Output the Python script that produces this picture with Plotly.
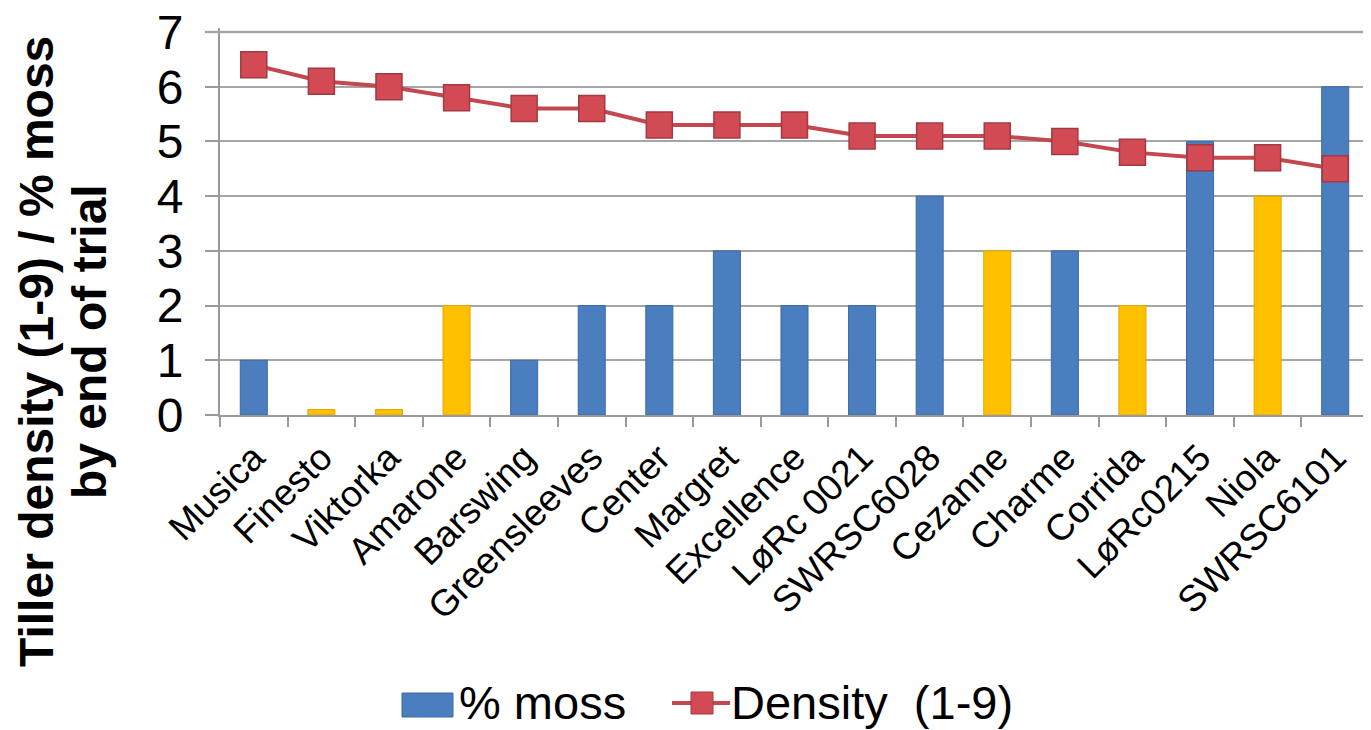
import plotly.graph_objects as go

categories = ["Musica", "Finesto", "Viktorka", "Amarone", "Barswing", "Greensleeves",
              "Center", "Margret", "Excellence", "LøRc 0021", "SWRSC6028", "Cezanne",
              "Charme", "Corrida", "LøRc0215", "Niola", "SWRSC6101"]
moss = [1, 0.1, 0.1, 2, 1, 2, 2, 3, 2, 2, 4, 3, 3, 2, 5, 4, 6]
density = [6.4, 6.1, 6.0, 5.8, 5.6, 5.6, 5.3, 5.3, 5.3, 5.1, 5.1, 5.1, 5.0, 4.8, 4.7, 4.7, 4.5]
yellow_cats = ["Finesto", "Viktorka", "Amarone", "Cezanne", "Corrida", "Niola"]
y_ticks = [0, 1, 2, 3, 4, 5, 6, 7]
y_title_lines = ["Tiller density (1-9) / % moss", "by end of trial"]
legend_names = ["% moss", "Density\u00a0 (1-9)"]

BLUE = "#4a7ebf"
BLUE_EDGE = "#3d6aa3"
YELLOW = "#ffc000"
YELLOW_EDGE = "#e0a800"
RED_LINE = "#c4474f"
RED_FILL = "#d24a54"
RED_EDGE = "#a33a42"
GRID = "#a6a6a6"
AXIS = "#9a9a9a"
FONT = "Arial, Liberation Sans, sans-serif"

# page body has an 8px margin, so the figure is shrunk by that amount
OFF = 8
FIG_W, FIG_H = 1371 - OFF, 730 - OFF
# screen pixels: left axis, right edge, y of value 7, y of value 0
L, R, Y7, B = 220, 1369, 32, 415
UNIT = (B - Y7) / 7.0
Y_TOP = 7 + 4.0 / UNIT          # small headroom above the top gridline
T = B - Y_TOP * UNIT
W, H = R - L, B - T


def px(x):
    return (x - L) / W


def py(y):
    return (B - y) / H


bar_colors = [YELLOW if c in yellow_cats else BLUE for c in categories]
bar_lines = [YELLOW_EDGE if c in yellow_cats else BLUE_EDGE for c in categories]

fig = go.Figure()
fig.add_trace(go.Bar(
    x=categories, y=moss, name=legend_names[0], width=0.4,
    marker=dict(color=bar_colors, line=dict(color=bar_lines, width=1)),
))
fig.add_trace(go.Scatter(
    x=categories, y=density, name=legend_names[1], mode="lines+markers",
    line=dict(color=RED_LINE, width=4),
    marker=dict(symbol="square", size=26, color=RED_FILL,
                line=dict(color=RED_EDGE, width=1.5)),
))

# top gridline (value 7), drawn in paper coordinates so it is never clipped
y7_paper = py(Y7)
fig.add_shape(type="line", xref="paper", yref="paper", x0=px(207), x1=1,
              y0=y7_paper, y1=y7_paper, layer="above",
              line=dict(color=GRID, width=2.5))

# y-axis title, two bold rotated lines
for text, cx, cy in [(y_title_lines[0], 36, 352), (y_title_lines[1], 89, 342)]:
    fig.add_annotation(
        text=f"<b>{text}</b>",
        xref="paper", yref="paper", x=px(cx), y=py(cy),
        xanchor="center", yanchor="middle", textangle=-90, showarrow=False,
        font=dict(family=FONT, size=48, color="#000000"),
    )

# legend (drawn manually to match swatch sizes)
fig.add_shape(type="rect", xref="paper", yref="paper",
              x0=px(402), x1=px(453), y0=py(717), y1=py(693),
              fillcolor=BLUE, line=dict(color=BLUE_EDGE, width=1))
fig.add_annotation(text=legend_names[0], xref="paper", yref="paper",
                   x=px(457), y=py(702), xanchor="left", yanchor="middle",
                   showarrow=False, font=dict(family=FONT, size=47, color="#000000"))
fig.add_shape(type="line", xref="paper", yref="paper",
              x0=px(672), x1=px(730), y0=py(703), y1=py(703),
              line=dict(color=RED_LINE, width=4))
fig.add_shape(type="rect", xref="paper", yref="paper",
              x0=px(691), x1=px(713), y0=py(714), y1=py(692),
              fillcolor=RED_FILL, line=dict(color=RED_EDGE, width=1))
fig.add_annotation(text=legend_names[1], xref="paper", yref="paper",
                   x=px(729), y=py(702), xanchor="left", yanchor="middle",
                   showarrow=False, font=dict(family=FONT, size=47, color="#000000"))

fig.update_layout(
    width=FIG_W, height=FIG_H,
    margin=dict(l=L - OFF, r=1371 - R, t=T - OFF, b=730 - B, autoexpand=False),
    paper_bgcolor="white", plot_bgcolor="white",
    font=dict(family=FONT, color="#000000"),
    showlegend=False,
    bargap=0.6,
)
fig.update_xaxes(
    type="category", range=[-0.5, 16.5],
    tickangle=-45, tickfont=dict(family=FONT, size=37, color="#000000"),
    showline=True, linecolor=AXIS, linewidth=2,
    ticks="outside", tickson="boundaries", ticklen=10, tickcolor=AXIS, tickwidth=2,
    showgrid=False, ticklabelstandoff=4,
)
fig.update_yaxes(
    range=[0, Y_TOP], tickvals=y_ticks,
    tickfont=dict(family=FONT, size=48, color="#000000"),
    showline=True, linecolor=AXIS, linewidth=2,
    ticks="outside", ticklen=13, tickcolor=AXIS, tickwidth=2,
    showgrid=True, gridcolor=GRID, gridwidth=2,
    zeroline=False, ticklabelstandoff=12, ticklabeloverflow="allow",
)

fig.write_html("out.html")
